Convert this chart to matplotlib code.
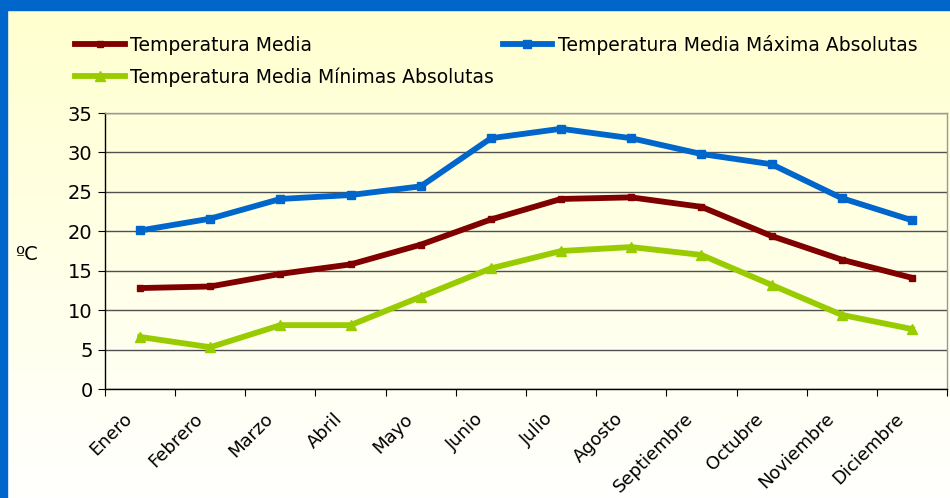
import numpy as np
import matplotlib
matplotlib.use("Agg")
import matplotlib.pyplot as plt
import matplotlib.transforms as mtransforms
from matplotlib.colors import LinearSegmentedColormap

months = ["Enero", "Febrero", "Marzo", "Abril", "Mayo", "Junio", "Julio",
          "Agosto", "Septiembre", "Octubre", "Noviembre", "Diciembre"]
t_media = [12.8, 13.0, 14.6, 15.8, 18.3, 21.5, 24.1, 24.3, 23.1, 19.4, 16.4, 14.1]
t_max = [20.1, 21.6, 24.1, 24.6, 25.7, 31.8, 33.0, 31.8, 29.8, 28.5, 24.2, 21.4]
t_min = [6.6, 5.3, 8.1, 8.1, 11.7, 15.3, 17.5, 18.0, 17.0, 13.2, 9.4, 7.6]
yticks = [0, 5, 10, 15, 20, 25, 30, 35]

labels = ["Temperatura Media", "Temperatura Media Máxima Absolutas",
          "Temperatura Media Mínimas Absolutas"]

fig = plt.figure(figsize=(9.5, 4.98), dpi=100)

# background gradient
bg = fig.add_axes([0, 0, 1, 1], zorder=-10)
grad = np.linspace(0, 1, 256).reshape(-1, 1)
cmap = LinearSegmentedColormap.from_list("bg", ["#FFFFCE", "#FFFFFE"])
bg.imshow(grad, aspect="auto", cmap=cmap, extent=[0, 1, 0, 1], origin="upper")
bg.axis("off")
# blue border top and left
fig.patches.append(plt.Rectangle((0, 1 - 10 / 498), 1, 10 / 498, transform=fig.transFigure,
                                 color="#0066CC", zorder=5))
fig.patches.append(plt.Rectangle((0, 0), 7 / 950, 1, transform=fig.transFigure,
                                 color="#0066CC", zorder=5))

ax = fig.add_axes([105 / 950, 1 - 389 / 498, (947 - 105) / 950, (389 - 113) / 498])
ax.patch.set_alpha(0)

x = np.arange(len(months))
l1, = ax.plot(x, t_media, color="#800000", lw=4.2, marker="s", ms=5,
              label=labels[0], zorder=3)
l2, = ax.plot(x, t_max, color="#0066CC", lw=4.2, marker="s", ms=6,
              label=labels[1], zorder=3)
l3, = ax.plot(x, t_min, color="#99CC00", lw=4.2, marker="^", ms=7,
              label=labels[2], zorder=3)

ax.set_xlim(-0.5, 11.5)
ax.set_ylim(0, 35)
ax.set_yticks(yticks)
ax.yaxis.grid(True, color="#505050", lw=1)
ax.set_axisbelow(True)

ax.set_xticks(np.arange(-0.5, 12, 1))
ax.set_xticklabels([])
ax.set_xticks(x, minor=True)
ax.set_xticklabels(months, minor=True, rotation=45, ha="right", va="top",
                   rotation_mode="anchor", fontsize=13)
ax.tick_params(axis="x", which="minor", length=0, pad=15)
ax.tick_params(axis="x", which="major", length=5, direction="out", color="black")
ax.tick_params(axis="y", length=5, direction="out", labelsize=14, pad=4)
offset = mtransforms.ScaledTranslation(-17 / 100, 0, fig.dpi_scale_trans)
for lab in ax.get_xticklabels(minor=True):
    lab.set_transform(lab.get_transform() + offset)

for s in ["left", "bottom"]:
    ax.spines[s].set_color("black")
    ax.spines[s].set_linewidth(1)
for s in ["top", "right"]:
    ax.spines[s].set_color("#999999")
    ax.spines[s].set_linewidth(1)

fig.text(15 / 950, 1 - 254 / 498, "ºC", fontsize=14, va="center", ha="left")

leg = fig.legend([l1, l3, l2], [labels[0], labels[2], labels[1]], ncol=2,
                 loc="upper left", bbox_to_anchor=(75 / 950, 1 - 35 / 498),
                 frameon=False, fontsize=13.5, handlelength=2.65, handletextpad=0.3,
                 labelspacing=0.65, columnspacing=0.45, borderaxespad=0, borderpad=0)

fig.savefig("out.png", dpi=100)
